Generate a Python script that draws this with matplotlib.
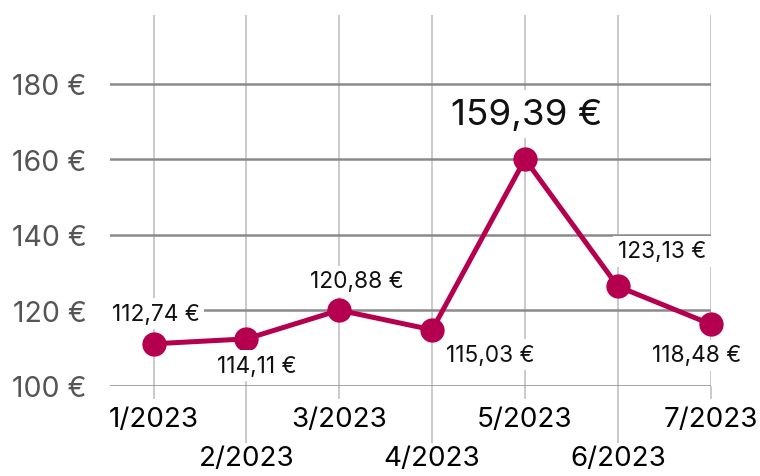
import matplotlib
matplotlib.use("Agg")
import matplotlib.pyplot as plt

# data
months = ["1/2023", "2/2023", "3/2023", "4/2023", "5/2023", "6/2023", "7/2023"]
prices = [111.1, 112.4, 120.0, 114.8, 160.0, 126.3, 116.3]
price_labels = ["112,74 €", "114,11 €", "120,88 €", "115,03 €", "159,39 €", "123,13 €", "118,48 €"]
y_ticks = [100, 120, 140, 160, 180]

# label offsets in pixels (layout only)
offsets = [(2, 30), (10, -27), (18, 29), (58, -25), (2, 45), (44, 35), (-14, -31)]

color = "#B5004F"
plt.rcParams["font.family"] = ["Inter", "DejaVu Sans"]

fig = plt.figure(figsize=(7.6, 4.77), dpi=100)
ax = fig.add_axes([0.1447, 0.1893, 0.7904, 0.7772])

x = list(range(1, len(months) + 1))

ax.set_xlim(0.53, 7)
ax.set_ylim(100, 198.2)

# horizontal gridlines
for v in y_ticks:
    ax.axhline(v, color="#8a8a8a", lw=1.8, zorder=1)
# vertical gridlines
for xi in x:
    ax.axvline(xi, color="#c6c6c6", lw=1.3, zorder=0.5)

ax.plot(x, prices, color=color, lw=3.6, marker="o", markersize=16.5,
        zorder=3, clip_on=False)

for i, (xi, yi, lab) in enumerate(zip(x, prices, price_labels)):
    big = i == 4
    ax.annotate(lab, (xi, yi), xytext=offsets[i], textcoords="offset pixels",
                ha="center", va="center", fontsize=26.5 if big else 16.3,
                color="#111111", zorder=4,
                bbox=dict(boxstyle="square,pad=0.2", fc="white", ec="none"))

ax.set_yticks(y_ticks)
ax.set_yticklabels([f"{v} €" for v in y_ticks], fontsize=20.5, color="#555555")
ax.tick_params(axis="y", length=0, pad=17)

odd = x[0::2]
even = x[1::2]
ax.set_xticks(odd)
ax.set_xticklabels(months[0::2], fontsize=20)
ax.set_xticks(even, minor=True)
ax.set_xticklabels(months[1::2], minor=True, fontsize=20)
ax.tick_params(axis="x", which="major", length=9.6, width=1.3, color="#c6c6c6", pad=5)
ax.tick_params(axis="x", which="minor", length=41, width=1.3, color="#c6c6c6", pad=2)

for s in ax.spines.values():
    s.set_visible(False)

fig.savefig("out.png", dpi=100)
